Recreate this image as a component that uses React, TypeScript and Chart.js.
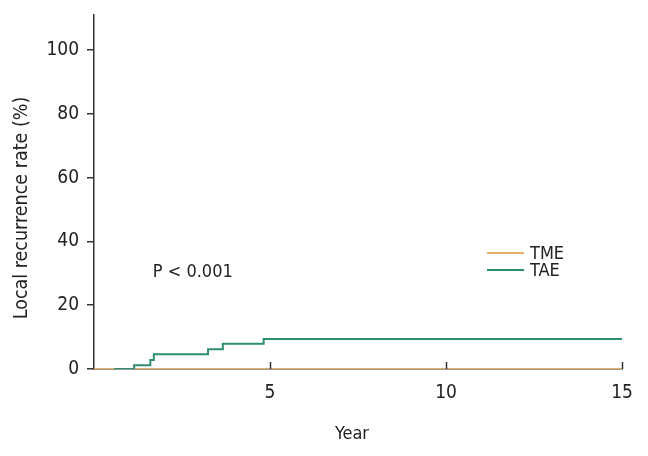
import React, { useEffect, useRef } from "react";
import { Chart, registerables } from "chart.js";

Chart.register(...registerables);

// Data (Kaplan–Meier style cumulative local recurrence, %)
const tmeYears = [0, 15];
const tmeRates = [0, 0];
const taeYears = [0.57, 1.14, 1.6, 1.7, 3.24, 3.66, 4.82, 15];
const taeRates = [0, 1.2, 2.8, 4.6, 6.2, 7.9, 9.4, 9.4];
const seriesLabels = ["TME", "TAE"];
const seriesColors = ["#e3b066", "#2f8d72"];
const yTickValues = [0, 20, 40, 60, 80, 100];
const xTickValues = [5, 10, 15];
const pText = "P < 0.001";
const pTextAt = [1.67, 30.4];

const FONT = "'DejaVu Sans Condensed', 'Liberation Sans Narrow', 'Liberation Sans', Arial, sans-serif";

export default function App() {
  const ref = useRef<HTMLCanvasElement | null>(null);

  useEffect(() => {
    document.body.style.margin = "0";
    const canvas = ref.current;
    if (!canvas) return;

    const decor = {
      id: "decor",
      afterDraw(chart: any) {
        const ctx = chart.ctx;
        const xs = chart.scales.x;
        const ys = chart.scales.y;
        ctx.save();
        // inward x ticks
        ctx.strokeStyle = "#333";
        ctx.lineWidth = 1.5;
        xTickValues.forEach((v) => {
          const px = Math.round(xs.getPixelForValue(v)) + 0.5;
          ctx.beginPath();
          ctx.moveTo(px, ys.bottom);
          ctx.lineTo(px, ys.bottom - 7);
          ctx.stroke();
        });
        // legend
        const lx0 = 487, lx1 = 524, ly = [253, 270];
        ctx.font = `18px ${FONT}`;
        ctx.textBaseline = "middle";
        ctx.textAlign = "left";
        seriesLabels.forEach((lab, i) => {
          ctx.strokeStyle = seriesColors[i];
          ctx.lineWidth = 2;
          ctx.beginPath();
          ctx.moveTo(lx0, ly[i]);
          ctx.lineTo(lx1, ly[i]);
          ctx.stroke();
          ctx.fillStyle = "#222";
          ctx.fillText(lab, 530, ly[i] + 1);
        });
        // p value
        ctx.fillStyle = "#222";
        ctx.fillText(pText, xs.getPixelForValue(pTextAt[0]), ys.getPixelForValue(pTextAt[1]));
        // axis titles
        ctx.textAlign = "center";
        ctx.fillText("Year", 352, 434);
        ctx.font = `19.5px ${FONT}`;
        ctx.translate(22, 208);
        ctx.rotate(-Math.PI / 2);
        ctx.fillText("Local recurrence rate (%)", 0, 0);
        ctx.restore();
      },
    };

    const chart = new Chart(canvas, {
      type: "line",
      data: {
        datasets: [
          {
            label: seriesLabels[0],
            data: tmeYears.map((x, i) => ({ x, y: tmeRates[i] })),
            borderColor: seriesColors[0],
            borderWidth: 2,
            pointRadius: 0,
            stepped: "before",
            fill: false,
            order: 1,
          },
          {
            label: seriesLabels[1],
            data: taeYears.map((x, i) => ({ x, y: taeRates[i] })),
            borderColor: seriesColors[1],
            borderWidth: 2,
            pointRadius: 0,
            stepped: "before",
            fill: false,
            order: 0,
          },
        ],
      },
      options: {
        responsive: false,
        animation: false,
        layout: { padding: { top: 15, right: 26, left: 0, bottom: 0 } },
        plugins: { legend: { display: false }, tooltip: { enabled: false } },
        scales: {
          x: {
            type: "linear",
            min: 0,
            max: 15,
            afterBuildTicks: (s: any) => {
              s.ticks = xTickValues.map((v) => ({ value: v }));
            },
            afterFit: (s: any) => {
              s.height = 87;
              s.paddingLeft = 0;
              s.paddingRight = 0;
            },
            ticks: {
              color: "#222",
              font: { family: FONT, size: 19 },
              padding: 13,
              maxRotation: 0,
            },
            grid: { display: false, drawTicks: false },
            border: { display: true, color: "#333", width: 1.5 },
          },
          y: {
            type: "linear",
            min: 0,
            max: 111,
            afterBuildTicks: (s: any) => {
              s.ticks = yTickValues.map((v) => ({ value: v }));
            },
            afterFit: (s: any) => {
              s.width = 94;
              s.paddingTop = 0;
              s.paddingBottom = 0;
            },
            ticks: {
              color: "#222",
              font: { family: FONT, size: 19 },
              padding: 8,
            },
            grid: {
              display: true,
              drawOnChartArea: false,
              drawTicks: true,
              tickLength: 7,
              color: "#333",
              lineWidth: 1.5,
            },
            border: { display: true, color: "#333", width: 1.5 },
          },
        },
      },
      plugins: [decor],
    } as any);

    return () => chart.destroy();
  }, []);

  return (
    <canvas
      ref={ref}
      width={648}
      height={456}
      style={{ display: "block", width: 648, height: 456, background: "#fff" }}
    />
  );
}
